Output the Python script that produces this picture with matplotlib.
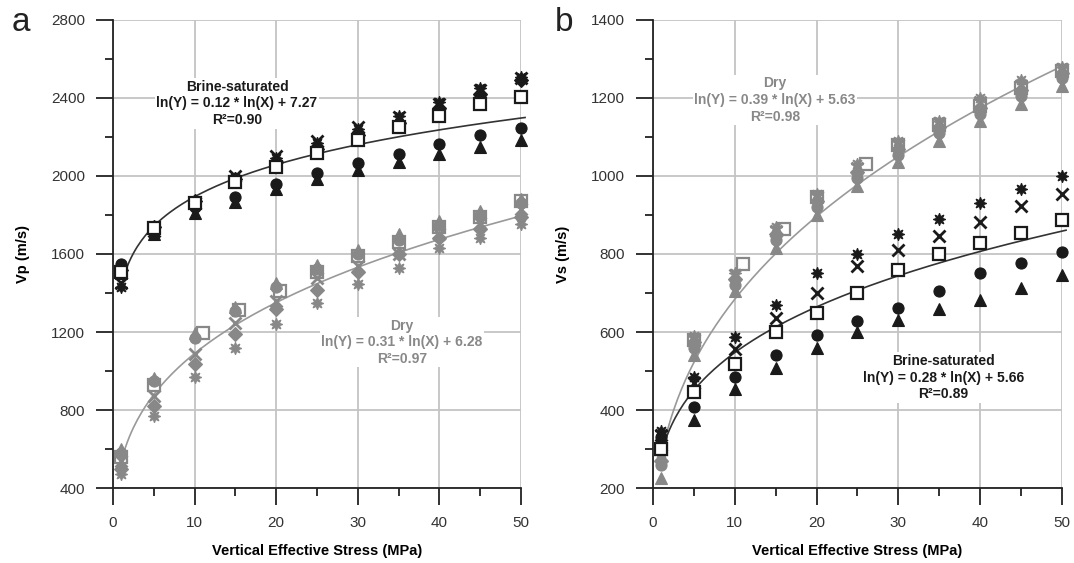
import numpy as np
import matplotlib
matplotlib.use("Agg")
from matplotlib import pyplot as plt
from matplotlib.ticker import MultipleLocator

plt.rcParams['font.family'] = ['Liberation Sans', 'DejaVu Sans']

# stress levels (MPa)
stress = [1, 5, 10, 15, 20, 25, 30, 35, 40, 45, 50]
stress_sq_dry_a = [1, 5, 11, 15.5, 20.5, 25, 30, 35, 40, 45, 50]
stress_sq_dry_b = [1, 5, 11, 16, 20, 26, 30, 35, 40, 45, 50]

# --- panel a: Vp (m/s) ---
vp_brine_star = [1430, 1720, 1850, 1990, 2090, 2170, 2240, 2310, 2380, 2450, 2510]
vp_brine_x = [1450, 1720, 1860, 2000, 2105, 2180, 2250, 2300, 2370, 2440, 2500]
vp_brine_diam = [1520, 1740, 1870, 1985, 2070, 2140, 2210, 2270, 2350, 2420, 2490]
vp_brine_sq = [1510, 1735, 1860, 1970, 2045, 2120, 2185, 2250, 2310, 2370, 2405]
vp_brine_circ = [1550, 1720, 1840, 1890, 1960, 2015, 2065, 2115, 2165, 2210, 2245]
vp_brine_tri = [1500, 1700, 1810, 1865, 1935, 1985, 2030, 2070, 2115, 2150, 2185]

vp_dry_tri = [600, 965, 1195, 1330, 1450, 1545, 1620, 1700, 1770, 1820, 1880]
vp_dry_circ = [580, 950, 1170, 1310, 1430, 1525, 1600, 1670, 1750, 1800, 1860]
vp_dry_sq = [560, 930, 1195, 1315, 1410, 1510, 1590, 1660, 1740, 1790, 1870]
vp_dry_x = [540, 870, 1085, 1245, 1360, 1475, 1540, 1600, 1700, 1760, 1830]
vp_dry_diam = [500, 820, 1035, 1190, 1320, 1415, 1510, 1600, 1680, 1730, 1790]
vp_dry_star = [470, 770, 970, 1120, 1240, 1350, 1445, 1530, 1630, 1680, 1755]

# --- panel b: Vs (m/s) ---
vs_brine_star = [345, 485, 588, 670, 752, 799, 850, 889, 932, 966, 999]
vs_brine_x = [335, 470, 557, 637, 701, 768, 809, 845, 881, 922, 955]
vs_brine_sq = [300, 447, 519, 600, 650, 701, 758, 799, 827, 855, 886]
vs_brine_circ = [330, 408, 485, 542, 593, 629, 662, 706, 752, 778, 804]
vs_brine_tri = [320, 375, 454, 508, 560, 601, 632, 660, 683, 714, 747]

vs_dry_tri = [225, 540, 705, 815, 900, 975, 1035, 1090, 1140, 1185, 1230]
vs_dry_circ = [260, 560, 720, 835, 920, 995, 1055, 1110, 1160, 1205, 1250]
vs_dry_diam = [270, 575, 735, 850, 935, 1010, 1070, 1125, 1175, 1220, 1265]
vs_dry_x = [285, 580, 745, 860, 945, 1020, 1080, 1135, 1190, 1230, 1275]
vs_dry_star = [290, 590, 750, 870, 955, 1030, 1090, 1140, 1200, 1245, 1280]
vs_dry_sq = [300, 580, 775, 865, 945, 1030, 1080, 1130, 1180, 1225, 1270]

# regression coefficients ln(Y) = a*ln(X) + b
fit_a_brine = (0.12, 7.27)
fit_a_dry = (0.31, 6.28)
fit_b_brine = (0.28, 5.66)
fit_b_dry = (0.39, 5.63)

BLACK = '#1a1a1a'
GRAY = '#888888'
STAR = (8, 1, 0)


def draw_series(ax, xs, ys, marker, color, open_face=False, size=8):
    face = 'white' if open_face else color
    if marker == 'x':
        ax.plot(xs, ys, linestyle='none', marker='x', color=color, markersize=size,
                mew=2, clip_on=False, zorder=4)
    else:
        ax.plot(xs, ys, linestyle='none', marker=marker, markerfacecolor=face,
                markeredgecolor=color, markersize=size, mew=1.6 if open_face else 0.8,
                clip_on=False, zorder=4)


def draw_fit(ax, coef, color):
    xs = np.linspace(1, 50.5, 200)
    ax.plot(xs, np.exp(coef[1]) * xs ** coef[0], color=color, lw=1.2, zorder=3, clip_on=False)


def style_axis(ax, ymin, ymax, ystep, ylabel):
    ax.set_xlim(0, 50)
    ax.set_ylim(ymin, ymax)
    ax.xaxis.set_major_locator(MultipleLocator(10))
    ax.xaxis.set_minor_locator(MultipleLocator(5))
    ax.yaxis.set_major_locator(MultipleLocator(ystep))
    ax.yaxis.set_minor_locator(MultipleLocator(ystep / 2))
    ax.grid(True, which='major', color='#c4c4c4', lw=1.3)
    ax.set_axisbelow(True)
    for s in ['top', 'right']:
        ax.spines[s].set_visible(False)
    for s in ['left', 'bottom']:
        ax.spines[s].set_linewidth(1.3)
        ax.spines[s].set_color('#222222')
    ax.tick_params(which='major', direction='out', length=12, width=1.3, color='#222222',
                   labelsize=11, labelcolor='#333333', pad=8)
    ax.tick_params(which='minor', direction='out', length=6, width=1.3, color='#222222')
    ax.set_xlabel('Vertical Effective Stress (MPa)', fontsize=10.5, fontweight='bold', labelpad=10)
    ax.set_ylabel(ylabel, fontsize=10.5, fontweight='bold', labelpad=15)


def label(ax, x, y, lines, color):
    ax.text(x, y, '\n'.join(lines), ha='center', va='center', color=color, fontsize=10,
            fontweight='bold', linespacing=1.25, zorder=2,
            bbox=dict(facecolor='white', edgecolor='none', pad=1))


fig = plt.figure(figsize=(10.74, 5.63), dpi=100)
ax1 = fig.add_axes([0.1052, 0.1332, 0.3799, 0.8313])
ax2 = fig.add_axes([0.608, 0.1332, 0.3808, 0.8313])

# panel a
style_axis(ax1, 400, 2800, 400, 'Vp (m/s)')
label(ax1, 15.2, 2372, ['Brine-saturated', 'ln(Y) = 0.12 * ln(X) + 7.27', 'R²=0.90'], BLACK)
label(ax1, 35.4, 1147, ['Dry', 'ln(Y) = 0.31 * ln(X) + 6.28', 'R²=0.97'], GRAY)
draw_fit(ax1, fit_a_brine, '#333333')
draw_fit(ax1, fit_a_dry, '#999999')
draw_series(ax1, stress_sq_dry_a, vp_dry_sq, 's', GRAY, open_face=True)
draw_series(ax1, stress, vp_dry_star, STAR, GRAY, size=9)
draw_series(ax1, stress, vp_dry_diam, 'D', GRAY, size=7)
draw_series(ax1, stress, vp_dry_x, 'x', GRAY)
draw_series(ax1, stress, vp_dry_circ, 'o', GRAY)
draw_series(ax1, stress, vp_dry_tri, '^', GRAY)
draw_series(ax1, stress, vp_brine_tri, '^', BLACK)
draw_series(ax1, stress, vp_brine_circ, 'o', BLACK)
draw_series(ax1, stress, vp_brine_diam, 'D', BLACK, size=7)
draw_series(ax1, stress, vp_brine_star, STAR, BLACK, size=9)
draw_series(ax1, stress, vp_brine_x, 'x', BLACK)
draw_series(ax1, stress, vp_brine_sq, 's', BLACK, open_face=True)

# panel b
style_axis(ax2, 200, 1400, 200, 'Vs (m/s)')
label(ax2, 14.9, 1195, ['Dry', 'ln(Y) = 0.39 * ln(X) + 5.63', 'R²=0.98'], GRAY)
label(ax2, 35.5, 483, ['Brine-saturated', 'ln(Y) = 0.28 * ln(X) + 5.66', 'R²=0.89'], BLACK)
draw_fit(ax2, fit_b_dry, '#999999')
draw_fit(ax2, fit_b_brine, '#333333')
draw_series(ax2, stress_sq_dry_b, vs_dry_sq, 's', GRAY, open_face=True)
draw_series(ax2, stress, vs_dry_tri, '^', GRAY)
draw_series(ax2, stress, vs_dry_circ, 'o', GRAY)
draw_series(ax2, stress, vs_dry_diam, 'D', GRAY, size=7)
draw_series(ax2, stress, vs_dry_x, 'x', GRAY)
draw_series(ax2, stress, vs_dry_star, STAR, GRAY, size=9)
draw_series(ax2, stress, vs_brine_tri, '^', BLACK)
draw_series(ax2, stress, vs_brine_circ, 'o', BLACK)
draw_series(ax2, stress, vs_brine_star, STAR, BLACK, size=9)
draw_series(ax2, stress, vs_brine_x, 'x', BLACK)
draw_series(ax2, stress, vs_brine_sq, 's', BLACK, open_face=True)

fig.text(0.011, 0.945, 'a', fontsize=24, color='#222222')
fig.text(0.517, 0.945, 'b', fontsize=24, color='#222222')

fig.savefig('out.png', dpi=100)
